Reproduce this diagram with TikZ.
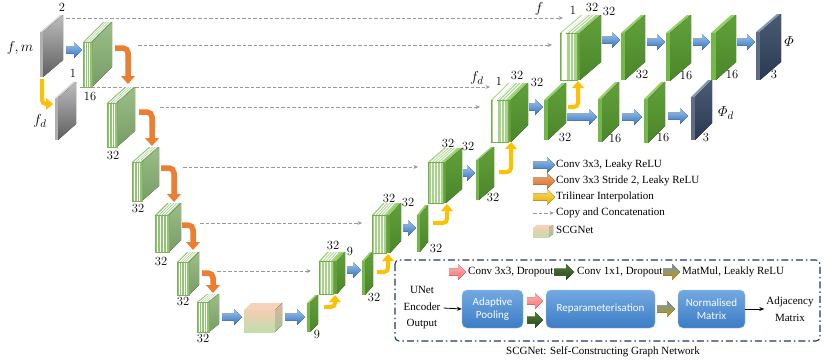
\documentclass[tikz,border=0pt]{standalone}
\usepackage{fontspec}
\usepackage{amsmath}
\usetikzlibrary{arrows.meta}
\newfontfamily\tnr{Liberation Serif}
\newfontfamily\sfc{Carlito}
\definecolor{grnF}{HTML}{74B84A}
\definecolor{grnT}{HTML}{92D160}
\definecolor{grnSa}{HTML}{62A03C}
\definecolor{grnSb}{HTML}{4B8629}
\definecolor{drkF}{HTML}{5C6D84}
\definecolor{drkT}{HTML}{8497B0}
\definecolor{drkSa}{HTML}{4A5B73}
\definecolor{drkSb}{HTML}{2B3A52}
\definecolor{gryF}{HTML}{B0B0B0}
\definecolor{gryT}{HTML}{D6D6D6}
\definecolor{grySa}{HTML}{BDBDBD}
\definecolor{grySb}{HTML}{5E5E5E}
\definecolor{encF}{HTML}{93C476}
\definecolor{encT}{HTML}{93C476}
\definecolor{encSa}{HTML}{9CBF88}
\definecolor{encSb}{HTML}{789C66}
\definecolor{encL}{HTML}{7DB35C}
\definecolor{decF}{HTML}{A8D38B}
\definecolor{decT}{HTML}{A8D38B}
\definecolor{decL}{HTML}{6FAE48}
\definecolor{orng}{HTML}{ED7D31}
\definecolor{ylw}{HTML}{FFC000}
\definecolor{dshc}{HTML}{9A9A9A}
\definecolor{navy}{HTML}{1F3864}
\definecolor{bluA}{HTML}{9CC5EF}
\definecolor{bluB}{HTML}{3572BE}
\definecolor{boxA}{HTML}{72A9E0}
\definecolor{boxB}{HTML}{3C7CC6}
\definecolor{scgA}{HTML}{F4CDB2}
\definecolor{scgB}{HTML}{C0DEAB}
\definecolor{scgSa}{HTML}{D9B69C}
\definecolor{scgSb}{HTML}{A7C493}
\definecolor{goldA}{HTML}{6F93B8}
\definecolor{goldB}{HTML}{C99A00}
\definecolor{pinkA}{HTML}{FFB3B3}
\definecolor{pinkB}{HTML}{FF6F6F}
\definecolor{dgrA}{HTML}{4E7A36}
\definecolor{dgrB}{HTML}{2A4A1E}
\newcommand{\myslab}[7]{%
 \fill[#7F] (#1,#2) rectangle ({#1+#3},{#2+#4});
 \fill[#7T] (#1,#2) -- ++(#5,-#6) -- ++(#3,0) -- ({#1+#3},#2) -- cycle;
 \fill[top color=#7Sa,bottom color=#7Sb] ({#1+#3},#2) -- ++(#5,-#6) -- ++(0,#4) -- ({#1+#3},{#2+#4}) -- cycle;
}
\newcommand{\myenc}[7]{%
 \myslab{#1}{#2}{#3}{#4}{#5}{#6}{enc}%
 \foreach \i in {1,...,#7}{%
   \draw[white,line width=1pt] ({#1+\i*#3/(#7+1)},#2) -- ++(0,#4);
   \draw[white,line width=1pt] ({#1+\i*#3/(#7+1)},#2) -- ++(#5,-#6);
 }%
 \draw[encL,line width=0.5pt] (#1,#2) rectangle ({#1+#3},{#2+#4});
}
\newcommand{\mydec}[8]{%
 \fill[decF] (#1,#2) rectangle ({#1+#3},{#2+#5});
 \fill[grnSa] ({#1+#3},#2) rectangle ({#1+#3+#4},{#2+#5});
 \fill[decT] (#1,#2) -- ++(#6,-#7) -- ++(#3,0) -- ({#1+#3},#2) -- cycle;
 \fill[grnT] ({#1+#3},#2) -- ++(#6,-#7) -- ++(#4,0) -- ({#1+#3+#4},#2) -- cycle;
 \fill[top color=grnSa,bottom color=grnSb] ({#1+#3+#4},#2) -- ++(#6,-#7) -- ++(0,#5) -- ({#1+#3+#4},{#2+#5}) -- cycle;
 \foreach \i in {1,...,#8}{%
   \draw[white,line width=1pt] ({#1+\i*#3/(#8+1)},#2) -- ++(0,#5);
   \draw[white,line width=1pt] ({#1+\i*#3/(#8+1)},#2) -- ++(#6,-#7);
 }%
 \draw[decL,line width=0.5pt] (#1,#2) rectangle ({#1+#3},{#2+#5});
}
\newcommand{\myarr}[4]{%
 \fill[#4] (#1,{#3-3.5}) -- ({#2-8},{#3-3.5}) -- ({#2-8},{#3-8}) -- (#2,#3) -- ({#2-8},{#3+8}) -- ({#2-8},{#3+3.5}) -- (#1,{#3+3.5}) -- cycle;
}
\newcommand{\myorg}[4]{%
 \draw[orng,line width=5.5pt,rounded corners=5pt] (#1,#2) -- (#3,#2) -- (#3,{#4-7});
 \fill[orng] ({#3-7},{#4-8}) -- ({#3+7},{#4-8}) -- (#3,#4) -- cycle;
}
\newcommand{\myylw}[4]{%
 \draw[ylw,line width=4pt,rounded corners=4pt] (#1,#2) -- (#3,#2) -- (#3,{#4+6});
 \fill[ylw] ({#3-6},{#4+7}) -- ({#3+6},{#4+7}) -- (#3,#4) -- cycle;
}
\begin{document}
\begin{tikzpicture}[x=1pt,y=-1pt,
 lbl/.style={font=\fontsize{12.5}{13}\selectfont,inner sep=0pt},
 mlbl/.style={font=\fontsize{15}{16}\selectfont,inner sep=0pt},
 leg/.style={font=\tnr\fontsize{11}{13}\selectfont,anchor=west,inner sep=0pt},
 dsh/.style={dshc,line width=1pt,dash pattern=on 3.5pt off 2pt,-{Stealth[length=4.5pt,width=4pt]}},
 bluearr/.style={top color=bluA,bottom color=bluB},
 orgarr/.style={top color=orng!70,bottom color=orng!90!black},
 ylwarr/.style={top color=ylw!60,bottom color=ylw!90!black},
 pinkarr/.style={top color=pinkA,bottom color=pinkB},
 dgrarr/.style={top color=dgrA,bottom color=dgrB},
 goldarr/.style={top color=goldA,bottom color=goldB},
 ibox/.style={draw=boxA!70,rounded corners=5pt,top color=boxA,bottom color=boxB,text=white,font=\sfc\fontsize{11}{13.5}\selectfont,align=center,minimum height=38pt,inner sep=0pt},
 itxt/.style={font=\tnr\fontsize{11}{16.5}\selectfont,align=center,inner sep=0pt}]
\useasboundingbox (0,0) rectangle (830,362);
% dashed skip connections
\draw[dsh] (66,18) -- (563,18);
\draw[dsh] (138,45) -- (552,45);
\draw[dsh] (80,87) -- (490,87);
\draw[dsh] (160,107) -- (480,107);
\draw[dsh] (183,167) -- (418,167);
\draw[dsh] (200,223) -- (362,223);
\draw[dsh] (217,271) -- (311,271);
% input
\myslab{40}{32}{3}{45}{20}{17}{gry}
\myslab{55}{98}{3}{42}{18}{16}{gry}
\draw[ylw,line width=4pt,rounded corners=4pt] (42,79) -- (42,104) -- (47,104);
\fill[ylw] (46,98) -- (46,110) -- (53,104) -- cycle;
\node[lbl] (t2) at (62,7) {2};
\node[lbl] (t1) at (73,73) {1};
\node[mlbl] (tfm) at (20,48) {$f,m$};
\node[mlbl] (tfd) at (40,121) {$f_d$};
% encoder
\myarr{66}{82}{50}{bluearr}
\myenc{83}{42}{9}{45}{20}{20}{3}
\myenc{107}{103}{10}{44}{18}{16}{3}
\myenc{132}{162}{10}{39}{17}{15}{3}
\myenc{155}{215}{14}{37}{12}{12}{4}
\myenc{177}{262}{12}{33}{10}{10}{4}
\myenc{197}{302}{12}{30}{10}{8}{4}
\myorg{115}{48}{128}{84}
\myorg{139}{112}{152}{146}
\myorg{161}{168}{174}{202}
\myorg{182}{225}{193}{250}
\myorg{202}{273}{213}{293}
\node[lbl] (e1) at (90,96) {16};
\node[lbl] (e2) at (113,155) {32};
\node[lbl] (e3) at (138,208) {32};
\node[lbl] (e4) at (161,261) {32};
\node[lbl] (e5) at (183,301) {32};
\node[lbl] (e6) at (203,338) {32};
% bottleneck
\myarr{222}{242}{317}{bluearr}
\fill[top color=scgA,bottom color=scgB] (244,310) rectangle (275,332);
\fill[scgA!90!white] (244,310) -- ++(7,-7) -- ++(31,0) -- (275,310) -- cycle;
\fill[top color=scgSa,bottom color=scgSb] (275,310) -- ++(7,-7) -- ++(0,22) -- (275,332) -- cycle;
\myarr{285}{305}{317}{bluearr}
\myslab{307}{303}{3}{29}{8}{8}{grn}
\node[lbl] (b9) at (317,334) {9};
\myylw{324}{307}{335}{295}
% decoder
\mydec{319}{261}{14}{4}{33}{8}{9}{4}
\node[lbl] (d1a) at (333,245) {32};
\node[lbl] (d1b) at (350,251) {9};
\myarr{347}{361}{270}{bluearr}
\myslab{362}{261}{3}{34}{8}{9}{grn}
\node[lbl] (s1) at (374,297) {32};
\myylw{377}{272}{388}{254}
\mydec{372}{215}{14}{4}{38}{11}{12}{4}
\node[lbl] (d2a) at (389,198) {32};
\node[lbl] (d2b) at (408,202) {32};
\myarr{403}{416}{228}{bluearr}
\myslab{417}{215}{3}{37}{8}{10}{grn}
\node[lbl] (s2) at (436,248) {32};
\myylw{433}{223}{447}{204}
\mydec{428}{162}{15}{3}{41}{16}{14}{4}
\node[lbl] (d3a) at (448,143) {32};
\node[lbl] (d3b) at (468,146) {32};
\myarr{463}{475}{173}{bluearr}
\myslab{476}{160}{3}{40}{15}{13}{grn}
\node[lbl] (s3) at (493,197) {32};
\myylw{499}{172}{511}{142}
\mydec{491}{100}{17}{3}{42}{17}{17}{4}
\fill[white] (492.5,100) rectangle (496.5,142);
\fill[white] (492.5,100) -- ++(17,-17) -- ++(4,0) -- (496.5,100) -- cycle;
\node[lbl] (d4a) at (499,81) {1};
\node[lbl] (d4b) at (517,75) {32};
\node[lbl] (d4c) at (537,82) {32};
\node[mlbl] (tfd2) at (477,78) {$f_d$};
\myarr{529}{543}{107}{bluearr}
\myslab{544}{100}{4}{40}{18}{17}{grn}
\node[lbl] (s4) at (565,137) {32};
\myylw{568}{107}{578}{81}
\myarr{567}{597}{117}{bluearr}
\myslab{598}{99}{4}{43}{17}{17}{grn}
\node[lbl] (s5) at (615,138) {16};
\myarr{622}{642}{117}{bluearr}
\myslab{644}{99}{4}{44}{17}{17}{grn}
\node[lbl] (s6) at (663,137) {16};
\myarr{668}{688}{116}{bluearr}
\myslab{691}{97}{4}{43}{17}{17}{drk}
\node[lbl] (s7) at (706,137) {3};
\node[mlbl] (phid) at (726,113) {$\varPhi_d$};
% top row
\mydec{560}{33}{17}{3}{47}{21}{18}{4}
\fill[white] (561.5,33) rectangle (565.5,80);
\fill[white] (561.5,33) -- ++(21,-18) -- ++(4,0) -- (565.5,33) -- cycle;
\node[lbl] (fa) at (573,10) {1};
\node[lbl] (fb) at (592,7) {32};
\node[lbl] (fc) at (609,11) {32};
\node[mlbl] (tf) at (539,9) {$f$};
\myarr{602}{620}{40}{bluearr}
\myslab{621}{33}{4}{47}{20}{18}{grn}
\node[lbl] (r1) at (642,74) {32};
\myarr{647}{665}{42}{bluearr}
\myslab{666}{33}{4}{48}{21}{18}{grn}
\node[lbl] (r2) at (686,75) {16};
\myarr{693}{710}{42}{bluearr}
\myslab{711}{33}{5}{47}{20}{18}{grn}
\node[lbl] (r3) at (732,74) {16};
\myarr{737}{755}{42}{bluearr}
\myslab{756}{32}{4}{48}{21}{18}{drk}
\node[lbl] (r4) at (774,74) {3};
\node[mlbl] (phi) at (789,42) {$\varPhi$};
% legend
\myarr{533}{555}{165}{bluearr}
\node[leg] (lg1) at (556,165) {Conv 3x3, Leaky ReLU};
\myarr{533}{555}{181}{orgarr}
\node[leg] (lg2) at (556,181) {Conv 3x3 Stride 2, Leaky ReLU};
\myarr{533}{555}{197}{ylwarr}
\node[leg] (lg3) at (556,197) {Trilinear Interpolation};
\draw[dsh] (533,213) -- (554,213);
\node[leg] (lg4) at (556,213) {Copy and Concatenation};
\fill[top color=scgA,bottom color=scgB] (533,228) rectangle (549,237);
\fill[scgA!90!white] (533,228) -- ++(4,-3) -- ++(16,0) -- (549,228) -- cycle;
\fill[top color=scgSa,bottom color=scgSb] (549,228) -- ++(4,-3) -- ++(0,9) -- (549,237) -- cycle;
\node[leg] (lg5) at (556,230) {SCGNet};
% SCGNet box
\draw[navy,line width=1.1pt,rounded corners=4pt,dash pattern=on 7pt off 3pt on 1.5pt off 3pt] (395,260) rectangle (820,341);
\node[itxt,font=\tnr\fontsize{11}{13}\selectfont] (cap) at (603,352) {SCGNet: Self-Constructing Graph Network};
\myarr{449}{466}{272}{pinkarr}
\node[leg] (k1) at (468,272) {Conv 3x3, Dropout};
\myarr{554}{574}{272}{dgrarr}
\node[leg] (k2) at (577,272) {Conv 1x1, Dropout};
\myarr{663}{680}{272}{goldarr}
\node[leg] (k3) at (682,272) {MatMul, Leakly ReLU};
\node[itxt] (uin) at (422,308) {UNet\\Encoder\\Output};
\node[ibox,minimum width=61pt] (ap) at (492.5,309) {Adaptive\\Pooling};
\node[ibox,minimum width=109pt] (rp) at (600.5,309) {Reparameterisation};
\node[ibox,minimum width=67pt] (nm) at (711.5,309) {Normalised\\Matrix};
\node[itxt] (adj) at (790,309) {Adjacency\\Matrix};
\draw[-{Stealth[length=5pt,width=4pt]},line width=0.8pt] (uin.east) ++(3,0) -- (ap.west);
\draw[-{Stealth[length=5pt,width=4pt]},line width=0.8pt] (nm.east) -- ([xshift=-2pt]adj.west);
\myarr{527}{543}{301}{pinkarr}
\myarr{527}{543}{320}{dgrarr}
\myarr{657}{675}{309}{goldarr}
\end{tikzpicture}
\end{document}
